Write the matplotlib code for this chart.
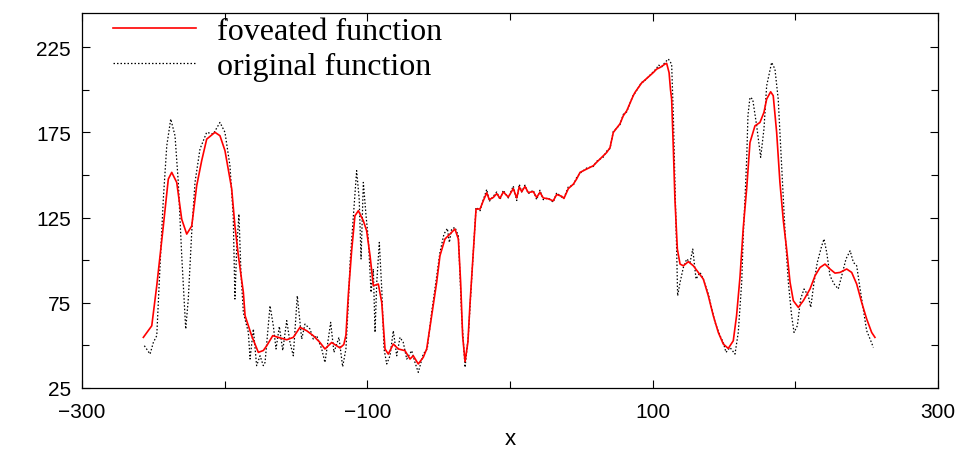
import matplotlib
matplotlib.use("Agg")
import matplotlib.pyplot as plt
from matplotlib.ticker import MultipleLocator, FuncFormatter

# foveated function (red, solid)
fov_x = [-257, -251.1, -247.6, -243, -239.5, -237.1, -233.6, -230.1, -226.6, -223.1,
         -219.6, -216.1, -212.6, -206.8, -203.3, -199.8, -195.1, -192.8, -190.4, -186.9,
         -185.7, -181.1, -176.4, -172.9, -170.5, -166.3, -162.4, -156.5, -151.9, -147.2,
         -142.5, -137.9, -133.2, -129.7, -125, -119.2, -116.5, -115, -113.3, -111,
         -108.7, -106.3, -102.8, -100.5, -98.1, -95.8, -92.3, -89.9, -87.6, -85.3,
         -81.8, -78.3, -73.6, -70.1, -67.8, -64.3, -60.8, -58.4, -54.9, -51.4,
         -49.1, -45.6, -42.1, -38.6, -36.2, -34.6, -33.2, -31.5, -29.5, -28,
         -26.8, -23.8, -21, -18.7, -16.3, -14.5, -11.7, -9.3, -7, -4.7,
         -1.2, 2.3, 4.7, 6.5, 8.2, 10.5, 12.8, 16.3, 18.7, 21,
         23.3, 26.8, 30.3, 32.7, 36.2, 37.8, 40.9, 44.4, 46.7, 49.1,
         53.7, 58.4, 60.7, 65.4, 67.8, 70.1, 72.4, 77.1, 79.4, 81.8,
         86.4, 87.6, 92.3, 93.4, 100.5, 102.8, 105.1, 108.6, 109.8, 111.5,
         112.5, 113.3, 114.5, 115.6, 117.3, 119.2, 121.5, 125, 128.5, 132,
         135.5, 139, 142.5, 146, 149.5, 153, 156.5, 158.8, 161.2, 163.5,
         165.9, 168.2, 171.7, 175.2, 178, 179.9, 182.7, 184.5, 186.9, 189.2,
         191.6, 193.9, 196.3, 198.6, 202.1, 205.6, 210.3, 213.8, 217.3, 220.8,
         224.3, 227.8, 231.3, 236, 239.5, 243, 246.5, 250, 253.5, 255.8]
fov_y = [54.7, 61.5, 85, 120, 147.6, 151.5, 145.6, 124, 115.3, 120,
         143.7, 158.4, 171, 175, 173, 164.3, 142, 120, 102.6, 81.1,
         67.4, 55.7, 45.9, 47.0, 49.8, 55.7, 54.7, 53.3, 54.7, 60.6,
         58.6, 55.7, 51.7, 47.9, 51.7, 48.5, 50.5, 56, 80, 105.5,
         126, 129, 123.1, 117.3, 102.6, 85, 86, 75.2, 47.9, 44.9,
         50.8, 47.9, 46.9, 42, 43.9, 39.1, 43, 47.9, 67.4, 87,
         102.6, 112.4, 115.3, 118.3, 112.4, 87, 55.7, 40.5, 52, 75,
         90.8, 130, 130, 134.9, 139.5, 135.5, 136.8, 139, 136.3, 140,
         137, 142, 136.5, 143, 140.2, 143.2, 139.7, 140.2, 136.8, 139.8,
         136.5, 136, 134.8, 138.5, 137.5, 136.2, 142, 144.6, 147.6, 151.5,
         153.4, 155.4, 157.4, 161.3, 163.2, 166, 174.9, 180, 184.7, 187.6,
         196.5, 198.4, 204, 204.8, 210.1, 212.1, 213, 215, 215.5, 210,
         200, 194.5, 165.2, 135.8, 106.5, 97.7, 96.7, 99.1, 96.7, 92.8,
         88.9, 79.1, 67.4, 57.6, 50.8, 48.2, 52.7, 67.4, 90, 119,
         142, 169, 178.8, 180.8, 186.7, 194.5, 198.8, 196.5, 175, 145.6,
         123.1, 106.5, 87, 76.2, 72.3, 76.2, 83.1, 90.8, 95.7, 97.7,
         94.8, 92.4, 92.8, 94.8, 92.8, 86, 75.2, 65.5, 57.6, 54.7]

# original function (black, dotted)
orig_x = [-256.3, -252.3, -250, -247.6, -245.3, -243, -240.6, -237.8, -234.8, -232.5,
          -230.1, -227.3, -225.5, -223.1, -220.8, -217.3, -212.6, -208, -203.3, -199.8,
          -196.3, -194, -192.8, -191.6, -190, -188.6, -186.9, -183.4, -182.2, -179.9,
          -177.6, -175.2, -172.9, -171.7, -168.2, -165.9, -164, -161.7, -159.3, -156.5,
          -154.2, -151.9, -149.1, -146, -143.7, -140.2, -137.9, -135.5, -132, -129.7,
          -125.7, -123.4, -119.9, -117.3, -115, -114.5, -113.3, -112, -110.3, -108.7,
          -107.5, -105.7, -104.4, -102.8, -100.9, -99.3, -97.4, -95.8, -94.6, -93.4,
          -91.6, -89.9, -88.3, -86.4, -84.1, -81.8, -79.4, -77.1, -74.8, -72.4,
          -68.9, -66.6, -64.3, -60.8, -58, -54.9, -51.4, -49.1, -46.3, -43.9,
          -42.5, -40.9, -38.6, -36.2, -33.9, -31.5, -29.2, -26.8, -23.8, -21,
          -18.7, -16.3, -14.5, -11.7, -9.3, -7, -4.7, -1.2, 2.3, 4.7,
          6.5, 8.2, 10.5, 12.8, 16.3, 18.7, 21, 23.3, 26.8, 30.3,
          32.7, 36.2, 37.8, 40.9, 44.4, 46.7, 49.1, 53.7, 58.4, 60.7,
          65.4, 67.8, 70.1, 72.4, 77.1, 79.4, 81.8, 86.4, 87.6, 92.3,
          93.4, 100.5, 102.8, 104, 106.5, 108.6, 111, 113.3, 114.5, 115.6,
          116.8, 117.5, 119.2, 121.5, 123.9, 126.2, 128.1, 130.4, 133.2, 135.5,
          139, 143.7, 147.2, 149.5, 151.4, 154.2, 157.7, 160, 162.4, 163.5,
          164.7, 165.9, 166.8, 168.2, 170.1, 172.9, 175.7, 178, 179.9, 183.4,
          185.7, 188, 190.4, 192.8, 195.1, 197.4, 199.1, 201.4, 203.7, 206.1,
          209.1, 210.8, 213.1, 215.4, 218.5, 220.1, 222, 224.3, 227.2, 230.1,
          232.5, 235.5, 238.4, 240.7, 243, 245.4, 247.6, 250, 252.4, 254.7]
orig_y = [49.8, 44.9, 51.7, 55.7, 96.7, 135.8, 167, 182.8, 173, 145.6,
          102.6, 59.6, 77.2, 116.3, 145.6, 165.2, 175, 174, 180.8, 175,
          155.4, 126, 77.2, 106.5, 127, 92.8, 69.3, 57.6, 42, 59.6,
          38.1, 43.9, 38.1, 40, 73.3, 61.5, 47.9, 61.1, 47, 64.5,
          51.7, 43.9, 79.1, 53.7, 62.5, 59.6, 53.7, 55.7, 47.9, 40,
          63.5, 45.9, 54.7, 37.5, 47.9, 55.7, 75, 100, 120, 139.7,
          152.5, 135.8, 100.7, 145.6, 126, 112.4, 81.1, 94.8, 57.6, 87,
          110.4, 83.1, 47.9, 39.1, 43.9, 58.6, 43.9, 54.7, 51.7, 42,
          46.9, 40, 34.2, 44.9, 47.9, 69.5, 90.8, 104.5, 115.3, 118.6,
          110.4, 118.3, 119.2, 114.3, 67.4, 37.1, 55.7, 90, 131, 129,
          135.5, 141.5, 134.5, 137.5, 140, 135.5, 141, 136.5, 143.5, 135,
          144.5, 140, 144, 139, 141, 135.5, 141, 135.5, 136.5, 134,
          139.5, 137, 136.5, 143, 144, 148.5, 151, 154, 155, 158,
          160.5, 164, 165.5, 175.5, 179.5, 185.5, 187, 197, 198, 204.5,
          204.5, 210.5, 212.5, 214.5, 213.5, 216, 218, 215, 184.7, 145.6,
          106.5, 79.1, 87, 95.7, 100.7, 98.7, 106.5, 88.9, 92.8, 88.9,
          80.1, 63.5, 55.7, 51.7, 45.9, 48.8, 44.9, 57.6, 87, 114.3,
          135.8, 159.3, 185, 195.5, 194.5, 178.8, 160.3, 176.9, 202.3, 216,
          212.1, 194.5, 155.4, 116.3, 87, 67.4, 57.6, 61.5, 77.2, 83.1,
          79.1, 72.3, 87, 98.7, 108.4, 112.4, 104.5, 90.8, 86, 83.1,
          90.8, 100.7, 105.5, 98.7, 96.7, 83.1, 71.3, 58.6, 53.7, 48.8]

x_major = [-300, -100, 100, 300]
y_major = [25, 75, 125, 175, 225]

fig = plt.figure(figsize=(9.69, 4.52), dpi=100)
ax = fig.add_axes([82 / 969, 1 - 389 / 452, (938 - 82) / 969, (389 - 14) / 452])

ax.plot(fov_x, fov_y, color="#ff0000", lw=1.2, label="foveated function", zorder=3)
ax.plot(orig_x, orig_y, color="black", lw=0.9, linestyle=(0, (1.2, 1.6)),
        label="original function", zorder=2)

ax.set_xlim(-300, 300)
ax.set_ylim(25, 245)
ax.set_xticks(x_major)
ax.xaxis.set_minor_locator(MultipleLocator(100))
ax.set_yticks(y_major)
ax.yaxis.set_minor_locator(MultipleLocator(25))
ax.xaxis.set_major_formatter(FuncFormatter(lambda v, p: f"{int(v)}".replace("-", "\u2212")))

ax.tick_params(which="both", direction="in", top=True, right=True, width=0.8)
ax.tick_params(which="major", length=6, labelsize=15)
ax.tick_params(axis="x", which="major", pad=10)
ax.tick_params(axis="y", which="major", pad=8)
ax.tick_params(which="minor", length=5)
for lab in ax.get_xticklabels() + ax.get_yticklabels():
    lab.set_fontfamily("Liberation Sans")
for s in ax.spines.values():
    s.set_linewidth(0.9)

ax.set_xlabel("x", fontsize=16, family="Liberation Sans", labelpad=5)

leg = ax.legend(loc="upper left", frameon=False,
                prop={"family": "Liberation Serif", "size": 23},
                handlelength=2.6, handletextpad=0.65, labelspacing=0.18,
                borderaxespad=0.0, borderpad=0.0, bbox_to_anchor=(0.036, 0.99))

fig.savefig("out.png", dpi=100)
